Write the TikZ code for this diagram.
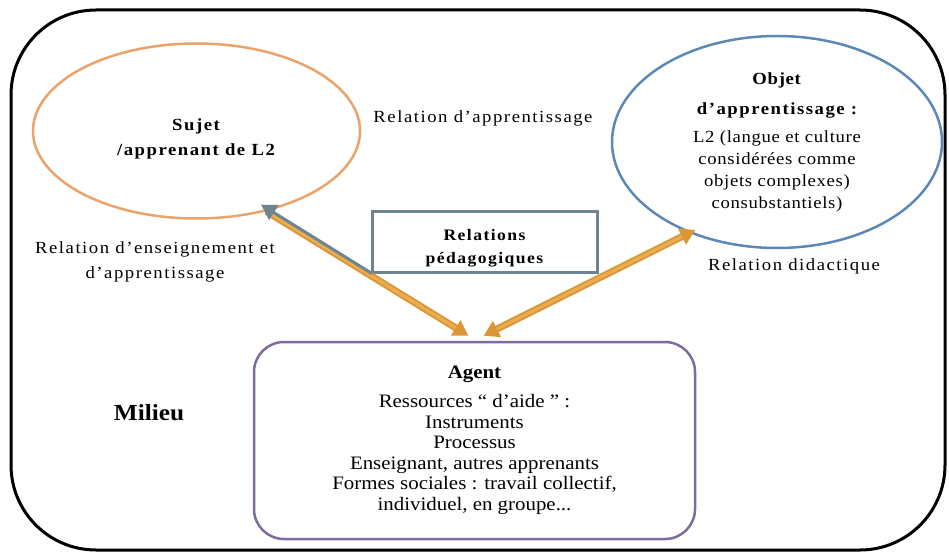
\documentclass[tikz,border=0pt]{standalone}
\usepackage{fontspec}
\setmainfont[FakeStretch=1.1]{Liberation Serif}
\newfontfamily\widefont[FakeStretch=1.1,LetterSpace=9]{Liberation Serif}
\newfontfamily\midfont[FakeStretch=1.1,LetterSpace=4]{Liberation Serif}
\usetikzlibrary{arrows.meta,calc,shapes.geometric}

\definecolor{sujetorange}{HTML}{EAA36A}
\definecolor{objetblue}{HTML}{5C88B6}
\definecolor{boxgray}{HTML}{6E8490}
\definecolor{agentviolet}{HTML}{7E6B9F}
\definecolor{arrorange}{HTML}{DC9636}
\definecolor{arrlight}{HTML}{EBAD52}

\tikzset{
  relarrow/.style={line width=7pt, draw=arrorange},
  relshine/.style={line width=3pt, draw=arrlight},
  relshade/.style={line width=3pt, draw=boxgray},
}

\begin{document}
\begin{tikzpicture}[x=1pt,y=-1pt,>={Triangle[length=15pt,width=17pt]}]
			%%%%% START %%%%%
			\useasboundingbox (0,0) rectangle (949,553);
			
			\draw[line width=3pt, rounded corners=85pt] (11,10) rectangle (945,550);
			
			\node[ellipse, draw=sujetorange, line width=2.5pt, inner sep=0pt, minimum width=327pt, minimum height=175pt] (sujet) at (196.5,131) {};
			\node[align=center, font=\widefont\bfseries\fontsize{17}{25}\selectfont] (sujettxt) at (196,139) {Sujet\\/apprenant de L2};
			
			\node[ellipse, draw=objetblue, line width=2.5pt, inner sep=0pt, minimum width=330pt, minimum height=212pt, align=center, font=\midfont\fontsize{17}{22}\selectfont] (objet) at (777,142) {\textbf{Objet}\\[8pt]{\widefont\bfseries d’apprentissage :}\\[6pt]L2 (langue et culture\\considérées comme\\objets complexes)\\consubstantiels)};
			
			\node[anchor=base, font=\widefont\fontsize{17}{21}\selectfont] (relapp) at (483,123) {Relation d’apprentissage};
			\node[align=center, font=\widefont\fontsize{17}{25}\selectfont] (relens) at (155,261.5) {Relation d’enseignement et\\d’apprentissage};
			\node[anchor=base, font=\widefont\fontsize{17}{21}\selectfont] (reldid) at (794,270) {Relation didactique};
			
			\node[draw=boxgray, line width=3pt, minimum width=225pt, minimum height=60pt] (peda) at (484.5,242) {};
			\node[align=center, font=\widefont\bfseries\fontsize{16}{23}\selectfont] (pedatxt) at (484.5,248) {Relations\\pédagogiques};
			
			\node[draw=agentviolet, line width=2.5pt, rounded corners=30pt, minimum width=441pt, minimum height=197pt, align=center, font=\fontsize{19}{20.6}\selectfont] (agent) at (474.5,440.5) {\textbf{Agent}\\[8pt]Ressources “ d’aide ” :\\Instruments\\Processus\\Enseignant, autres apprenants\\Formes sociales : travail collectif,\\individuel, en groupe...};
			
			\node[anchor=base, font=\bfseries\fontsize{23}{25}\selectfont] (milieu) at (149,420) {Milieu};
			
			\draw[relarrow, ->] (sujet.-49) -- ([xshift=-6pt,yshift=5pt]agent.north);
			\draw[relshine, shorten >=15pt] (sujet.-49) -- ([xshift=-6pt,yshift=5pt]agent.north);
			\draw[relshade, ->, shorten >=-8pt] ($(sujet.-49)!0.5!(agent.north)+(1.5,-2.5)$) -- ($(sujet.-49)+(1.5,-2.5)$);
			
			\draw[relarrow, <->, shorten >=-7pt] ([xshift=9pt,yshift=5pt]agent.north) -- (objet.226);
			\draw[relshine, shorten <=15pt, shorten >=8pt] ([xshift=9pt,yshift=5pt]agent.north) -- (objet.226);
			
			%%%%% END %%%%%
\end{tikzpicture}
\end{document}
